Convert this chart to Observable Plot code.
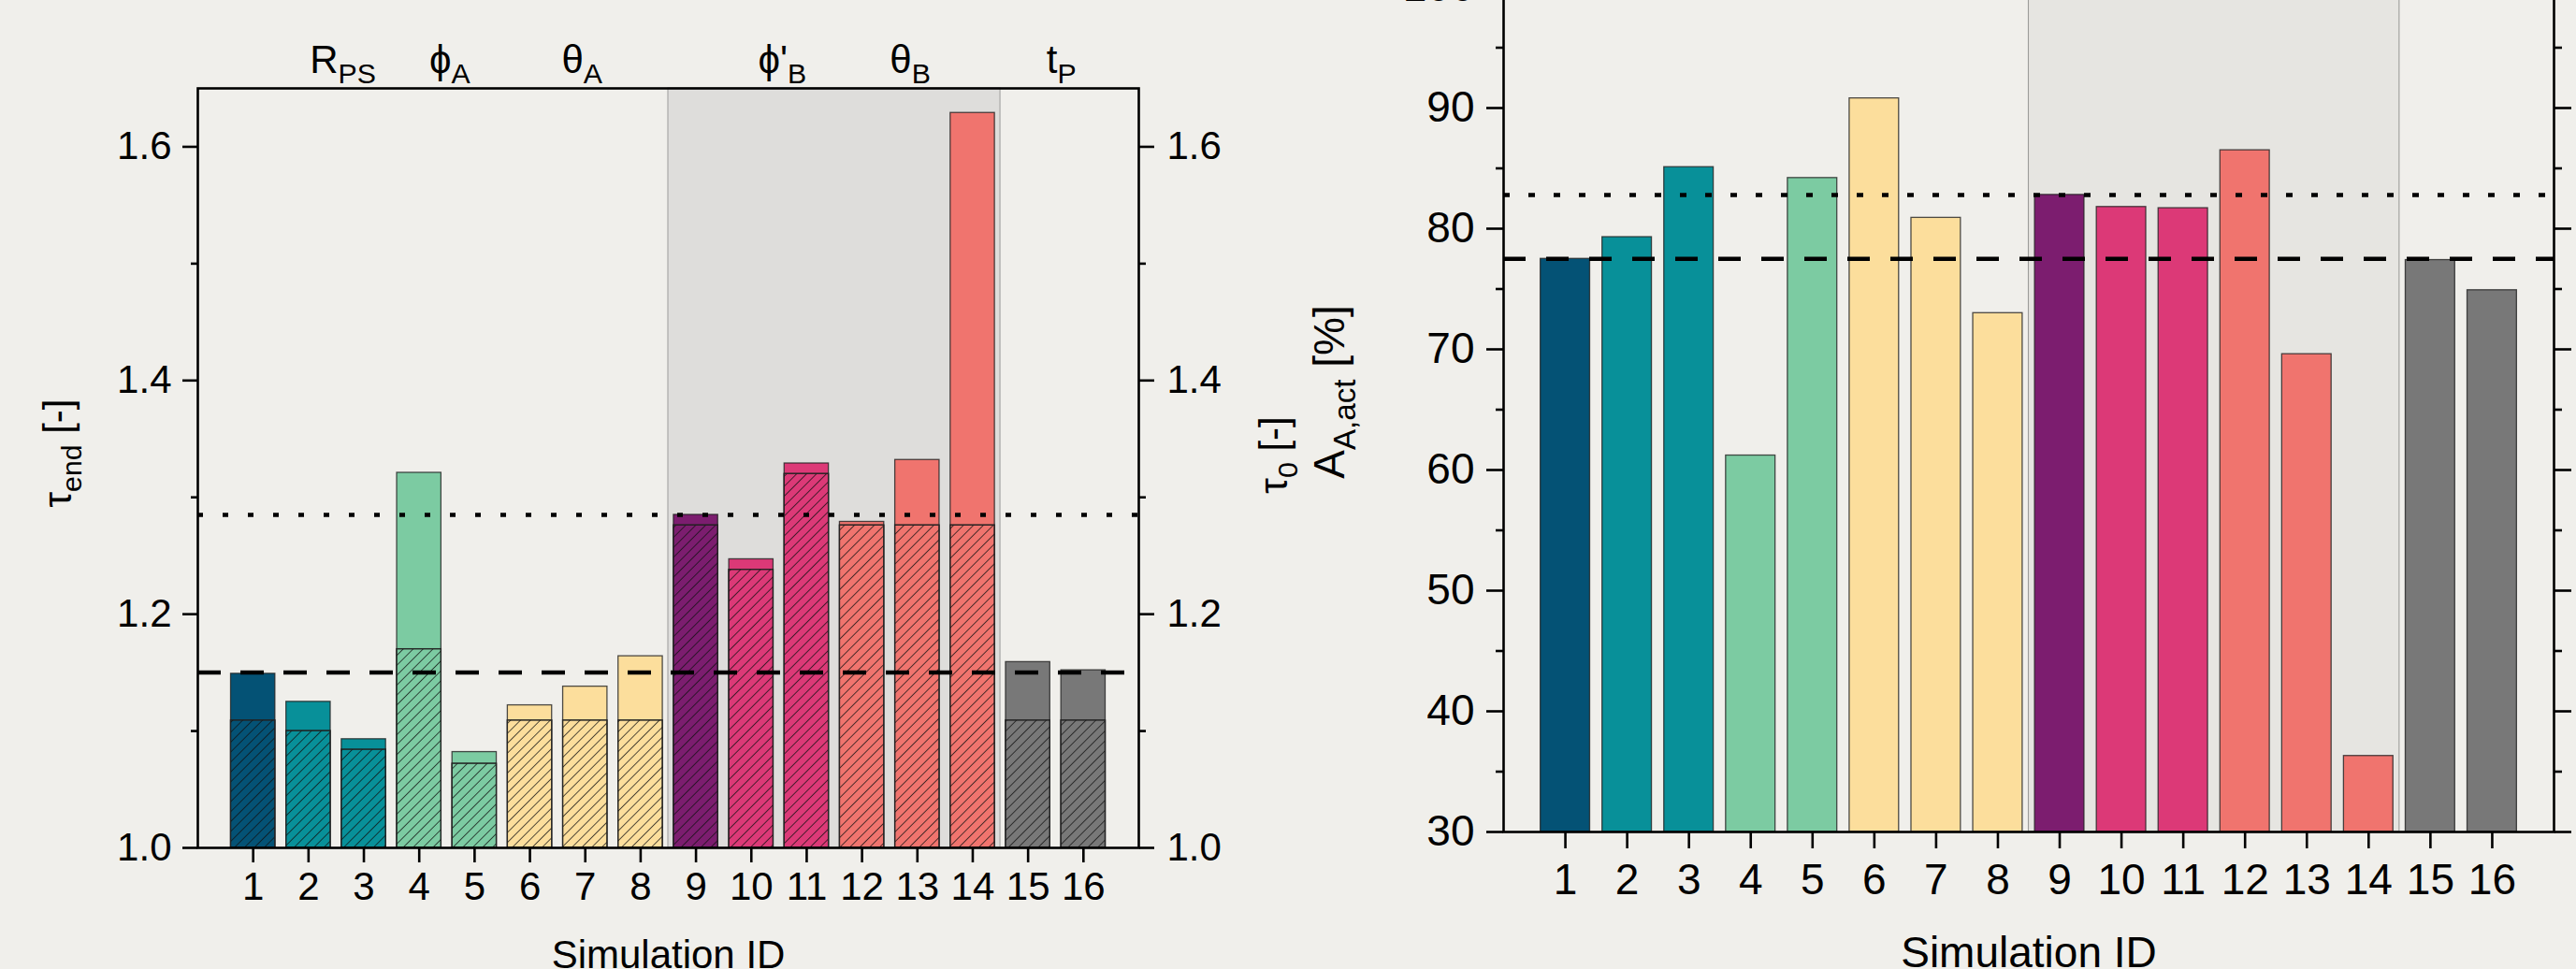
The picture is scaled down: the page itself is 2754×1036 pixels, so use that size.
<!DOCTYPE html>
<html><head><meta charset="utf-8">
<script src="https://cdn.jsdelivr.net/npm/d3@7"></script>
<script src="https://cdn.jsdelivr.net/npm/@observablehq/plot@0.6"></script>
<style>
html,body{margin:0;padding:0;background:#F0EFEB;width:2754px;height:1036px;overflow:hidden;}
#wrap{position:relative;width:2754px;height:1036px;overflow:hidden;}
#left{position:absolute;left:0;top:0;}
#right{position:absolute;left:1380px;top:-100px;}
svg{overflow:visible}
</style></head><body>
<svg width="0" height="0" style="position:absolute"><defs>
<pattern id="hatch" patternUnits="userSpaceOnUse" width="7.5" height="7.5" patternTransform="rotate(45)">
<line x1="0" y1="-1" x2="0" y2="9" stroke="#111" stroke-width="1.6" stroke-opacity="0.9"/>
</pattern></defs></svg>
<div id="wrap"><div id="left"></div><div id="right"></div></div>
<script>
// ---------- data ----------
const ids = [1,2,3,4,5,6,7,8,9,10,11,12,13,14,15,16];
const barColors = ["#045275","#089099","#089099","#7CCBA2","#7CCBA2","#FCDE9C","#FCDE9C","#FCDE9C",
                   "#7C1D6F","#DC3977","#DC3977","#F0746E","#F0746E","#F0746E","#787878","#787878"];
const tauEnd = [1.149,1.125,1.093,1.321,1.082,1.122,1.138,1.164,1.285,1.247,1.329,1.279,1.332,1.629,1.159,1.152];
const tau0   = [1.109,1.100,1.084,1.170,1.072,1.109,1.109,1.109,1.276,1.238,1.320,1.276,1.276,1.276,1.109,1.109];
const aAct   = [77.5,79.3,85.1,61.2,84.2,90.8,80.9,73.0,82.8,81.8,81.7,86.5,69.6,36.3,77.4,74.9];
const refLeft  = [1.150, 1.285];   // dashed, dotted
const refRight = [77.5, 82.8];     // dashed, dotted
const groupLabels = ["R_{PS}","ϕ_{A}","θ_{A}","ϕ'_{B}","θ_{B}","t_{P}"];
const groupPos    = [2.62, 4.55, 6.94, 10.56, 12.87, 15.6];
const shadeRange  = [8.5, 14.5];
const leftMajor = [1.0,1.2,1.4,1.6], leftMinor = [1.1,1.3,1.5];
const rightMajor = [30,40,50,60,70,80,90,100], rightMinor = [35,45,55,65,75,85,95];

const rows = ids.map((id,i)=>({id, color: barColors[i], tauEnd: tauEnd[i], tau0: tau0[i], aAct: aAct[i]}));
const FONT = "'Liberation Sans', Arial, Helvetica, sans-serif";
const BAR = {stroke:"#222", strokeWidth:1.3, strokeOpacity:0.8};
const AX = {stroke:"#000", strokeWidth:2.6};

function richify(svg){
  d3.select(svg).selectAll("text").each(function(){
    const s = this.textContent;
    if (!s.includes("_{")) return;
    const fs = parseFloat(getComputedStyle(this).fontSize) || 42;
    this.textContent = "";
    const re = /_\{([^}]*)\}|([^_]+)/g;
    let m;
    while ((m = re.exec(s))) {
      const t = document.createElementNS("http://www.w3.org/2000/svg","tspan");
      if (m[1] !== undefined) {
        t.textContent = m[1];
        t.setAttribute("font-size", 0.72*fs);
        t.setAttribute("baseline-shift", (-0.27*fs) + "px");
      } else t.textContent = m[2];
      this.appendChild(t);
    }
  });
}

// ---------- left panel ----------
const W1 = 1400, H1 = 1036;
const left = Plot.plot({
  width: W1, height: H1,
  marginLeft: 211, marginRight: W1-1217, marginTop: 94, marginBottom: H1-906,
  style: {background:"transparent", fontFamily: FONT, fontSize:"42px", color:"#000", overflow:"visible"},
  x: {domain:[0,17], axis:null, label:null},
  y: {domain:[1.0,1.65], axis:null, label:null},
  color: {type:"identity"},
  marks: [
    Plot.rect([shadeRange], {x1:d=>d[0], x2:d=>d[1], y1:1.0, y2:1.65, fill:"#DEDDDB", stroke:"#A9A9A7", strokeWidth:1.2}),
    Plot.rect(rows, {x1:d=>d.id-0.4, x2:d=>d.id+0.4, y1:1.0, y2:"tauEnd", fill:"color", ...BAR}),
    Plot.rect(rows, {x1:d=>d.id-0.4, x2:d=>d.id+0.4, y1:1.0, y2:"tau0", fill:"color", ...BAR}),
    Plot.rect(rows, {x1:d=>d.id-0.4, x2:d=>d.id+0.4, y1:1.0, y2:"tau0", fill:"url(#hatch)", ...BAR}),
    Plot.ruleY([refLeft[0]], {stroke:"#000", strokeWidth:4.5, strokeDasharray:"25,21"}),
    Plot.ruleY([refLeft[1]], {stroke:"#000", strokeWidth:4.5, strokeDasharray:"6,21"}),
    Plot.axisY(leftMajor, {anchor:"left", label:null, tickSize:16, tickPadding:12, tickFormat:d3.format(".1f"), fontSize:42, ...AX}),
    Plot.axisY(leftMinor, {anchor:"left", label:null, tickSize:7, tickFormat:()=>"", ...AX}),
    Plot.axisY(leftMajor, {anchor:"right", label:null, tickSize:16, tickPadding:14, tickFormat:d3.format(".1f"), fontSize:42, ...AX}),
    Plot.axisY(leftMinor, {anchor:"right", label:null, tickSize:7, tickFormat:()=>"", ...AX}),
    Plot.axisX(ids, {anchor:"bottom", label:null, tickSize:16, tickPadding:10, fontSize:42, ...AX}),
    Plot.frame({stroke:"#000", strokeWidth:2.6}),
    Plot.text(groupLabels.map((l,i)=>({l, x:groupPos[i]})), {x:"x", text:"l", frameAnchor:"top", lineAnchor:"bottom", dy:-17, fontSize:42}),
    Plot.text(["τ_{end} [-]"], {text:d=>d, frameAnchor:"left", textAnchor:"middle", rotate:-90, dx:-149, dy:-16, fontSize:42}),
    Plot.text(["τ_{0} [-]"], {text:d=>d, frameAnchor:"right", textAnchor:"middle", rotate:-90, dx:145, dy:-14, fontSize:42}),
    Plot.text(["Simulation ID"], {text:d=>d, frameAnchor:"bottom", lineAnchor:"bottom", dy:128, fontSize:42})
  ]
});
document.getElementById("left").appendChild(left);
richify(left);

// ---------- right panel ----------
const W2 = 1374, H2 = 1136;
const right = Plot.plot({
  width: W2, height: H2,
  marginLeft: 227, marginRight: 24, marginTop: 86, marginBottom: 147,
  style: {background:"transparent", fontFamily: FONT, fontSize:"46px", color:"#000", overflow:"visible"},
  x: {domain:[0,17], axis:null, label:null},
  y: {domain:[30,100], axis:null, label:null},
  color: {type:"identity"},
  marks: [
    Plot.rect([shadeRange], {x1:d=>d[0], x2:d=>d[1], y1:30, y2:100, fill:"#E6E5E1", stroke:"#9C9C9A", strokeWidth:1.1}),
    Plot.rect(rows, {x1:d=>d.id-0.4, x2:d=>d.id+0.4, y1:30, y2:"aAct", fill:"color", ...BAR}),
    Plot.ruleY([refRight[0]], {stroke:"#000", strokeWidth:4.5, strokeDasharray:"24,22"}),
    Plot.ruleY([refRight[1]], {stroke:"#000", strokeWidth:4.5, strokeDasharray:"7,20"}),
    Plot.axisY(rightMajor, {anchor:"left", label:null, tickSize:18, tickPadding:13, fontSize:46, ...AX}),
    Plot.axisY(rightMinor, {anchor:"left", label:null, tickSize:8, tickFormat:()=>"", ...AX}),
    Plot.axisY(rightMajor, {anchor:"right", label:null, tickSize:18, tickFormat:()=>"", ...AX}),
    Plot.axisY(rightMinor, {anchor:"right", label:null, tickSize:8, tickFormat:()=>"", ...AX}),
    Plot.axisX(ids, {anchor:"bottom", label:null, tickSize:18, tickPadding:16, fontSize:46, ...AX}),
    Plot.frame({stroke:"#000", strokeWidth:2.6}),
    Plot.text(["A_{A,act} [%]"], {text:d=>d, frameAnchor:"left", textAnchor:"middle", rotate:-90, dx:-185, dy:-19, fontSize:46}),
    Plot.text(["Simulation ID"], {text:d=>d, frameAnchor:"bottom", lineAnchor:"bottom", dy:144, fontSize:46})
  ]
});
document.getElementById("right").appendChild(right);
richify(right);
</script>
</body></html>
